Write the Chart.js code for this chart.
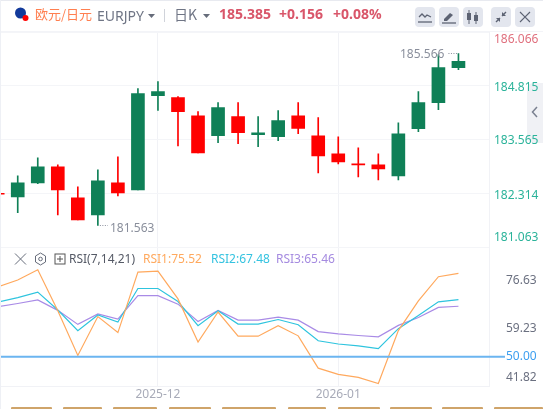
<!DOCTYPE html>
<html lang="zh">
<head>
<meta charset="utf-8">
<script src="https://cdn.jsdelivr.net/npm/chart.js@4/dist/chart.umd.js"></script>
<style>
html,body{margin:0;padding:0;background:#fff;width:543px;height:409px;overflow:hidden;font-family:"Noto Sans CJK SC","Noto Sans",sans-serif}
#wrap{position:relative;width:543px;height:409px;overflow:hidden}
canvas{position:absolute;left:0;top:0}
.t{position:absolute;white-space:nowrap;line-height:16px}
.b{position:absolute;top:7px;width:20px;height:20px;background:#e3e6ee;border-radius:4px}
.b svg{display:block;margin:2px}
.tab{position:absolute;top:407px;height:2px;background:#cfa46a;border-radius:1px 1px 0 0}
</style>
</head>
<body>
<div id="wrap">
<div style="position:absolute;left:527px;top:83px;width:16px;height:60px;background:#f0f1f5;border-radius:6px 0 0 6px"></div>
<canvas id="c" width="543" height="409"></canvas>
<svg style="position:absolute;left:531px;top:106px" width="8" height="12"><path d="M6 1L1.5 6 6 11" fill="none" stroke="#7a8090" stroke-width="1.5"/></svg>
<div style="position:absolute;left:0;top:0;width:543px;height:1px;background:#e8eaf0"></div>
<div style="position:absolute;left:0;top:31px;width:543px;height:1px;background:#f3f4f8"></div>
<div style="position:absolute;left:0;top:0;width:1px;height:409px;background:#eef0f5"></div>
<svg style="position:absolute;left:13px;top:6px" width="18" height="17"><circle cx="7.5" cy="7" r="5.5" fill="#123a9b"/><circle cx="12.5" cy="12" r="3" fill="#f00"/></svg>
<div class="t" style="left:35px;top:6px;font-size:13px;color:#ff7f50">欧元/日元</div>
<div class="t" style="left:97px;top:8px;font-size:14px;color:#6f7585;font-family:'Noto Sans'">EURJPY</div>
<svg style="position:absolute;left:148px;top:14px" width="8" height="5"><path d="M0 0h7L3.5 4z" fill="#666c7a"/></svg>
<div style="position:absolute;left:164px;top:9px;width:1px;height:13px;background:#d0d3da"></div>
<div class="t" style="left:174px;top:6px;font-size:14px;color:#6f7585">日K</div>
<svg style="position:absolute;left:203px;top:14px" width="8" height="5"><path d="M0 0h7L3.5 4z" fill="#666c7a"/></svg>
<div class="t" style="left:219px;top:6px;font-size:14px;font-weight:700;color:#d9566a;font-family:'Noto Sans'">185.385</div>
<div class="t" style="left:279px;top:6px;font-size:14px;font-weight:700;color:#d9566a;font-family:'Noto Sans'">+0.156</div>
<div class="t" style="left:333px;top:6px;font-size:14px;font-weight:700;color:#d9566a;font-family:'Noto Sans'">+0.08%</div>
<div class="b" style="left:415px"><svg width="16" height="16"><path d="M2 8l3-3 3 3 2-2 4 2" fill="none" stroke="#5d6373" stroke-width="1.3"/><path d="M1 13h14" stroke="#5d6373" stroke-width="1.3"/></svg></div>
<div class="b" style="left:439px"><svg width="16" height="16"><path d="M3 10l6-6 3 2-6 6H3z" fill="#5d6373"/><path d="M1 14h14" stroke="#5d6373" stroke-width="1.3"/></svg></div>
<div class="b" style="left:463px"><svg width="16" height="16"><path d="M4 1v14M11 3v12" stroke="#5d6373"/><rect x="2" y="4" width="4" height="7" fill="#5d6373"/><rect x="9" y="6" width="4" height="6" fill="#5d6373"/></svg></div>
<div class="b" style="left:491px"><svg width="16" height="16"><path d="M13 3L9 7M3 13l4-4" stroke="#5d6373" stroke-width="1.4"/><path d="M9 3v4h4M3 9h4v4" fill="#5d6373"/></svg></div>
<div class="b" style="left:515px"><svg width="16" height="16"><path d="M3 3l10 10M13 3L3 13" stroke="#5d6373" stroke-width="1.2"/></svg></div>
<svg style="position:absolute;left:14px;top:253px" width="14" height="13"><path d="M1 0.5l11 11M12 0.5L1 11.5" stroke="#666c7a" stroke-width="1"/></svg>
<svg style="position:absolute;left:34px;top:252px" width="13" height="14"><path d="M6.5 1l5 3v6l-5 3-5-3V4z" fill="none" stroke="#666c7a"/><circle cx="6.5" cy="7" r="1.8" fill="none" stroke="#666c7a"/></svg>
<svg style="position:absolute;left:54px;top:253px" width="12" height="12"><rect x="1" y="1" width="10" height="10" fill="none" stroke="#555"/><path d="M6 3v6M3 6h6" stroke="#555"/></svg>
<div class="t" style="left:69px;top:251px;font-size:12px;color:#555a66;font-family:'Noto Sans'">RSI(7,14,21)</div>
<div class="t" style="left:143px;top:251px;font-size:12px;color:#ffa95e;font-family:'Noto Sans'">RSI1:75.52</div>
<div class="t" style="left:211px;top:251px;font-size:12px;color:#35c3e0;font-family:'Noto Sans'">RSI2:67.48</div>
<div class="t" style="left:276px;top:251px;font-size:12px;color:#a58be0;font-family:'Noto Sans'">RSI3:65.46</div>
<div class="tab" style="left:11px;width:41px"></div>
<div class="tab" style="left:63px;width:39px"></div>
<div class="tab" style="left:113px;width:44px"></div>
<div class="tab" style="left:169px;width:42px"></div>
<div class="tab" style="left:222px;width:54px"></div>
<div class="tab" style="left:288px;width:38px"></div>
<div class="tab" style="left:338px;width:42px"></div>
<div class="tab" style="left:390px;width:42px"></div>
<div class="tab" style="left:442px;width:41px"></div>
<div class="tab" style="left:494px;width:49px"></div>
</div>
<script>
const opens  = [182.31,182.229,182.555,182.929,182.206,181.809,182.555,182.392,184.585,184.538,184.118,183.652,184.095,183.675,183.628,184.118,183.652,183.232,182.999,182.975,182.719,183.815,184.421,185.238];
const closes = [182.29,182.555,182.929,182.392,181.692,182.602,182.322,184.631,184.678,184.212,183.255,184.305,183.722,183.722,184.002,183.822,183.185,183.045,182.975,182.882,183.698,184.421,185.238,185.385];
const highs  = [182.31,182.719,183.139,182.975,182.462,182.859,183.162,184.748,184.911,184.561,184.212,184.421,184.421,184.095,184.235,184.421,184.072,183.628,183.372,183.232,183.955,184.678,185.541,185.566];
const lows   = [182.29,181.863,182.539,181.809,181.692,181.563,182.252,182.392,184.242,183.418,183.255,183.488,183.465,183.395,183.535,183.698,182.789,182.999,182.695,182.625,182.625,183.745,184.258,185.191];
const rsi1   = [71.4,73.5,76.63,64.1,50.4,62.3,57.4,75.9,76.2,67.7,54.5,63.7,56.3,56.3,59.5,56.4,46.5,44.6,43.7,41.82,58.0,67.1,74.5,75.52];
const rsi2   = [66.7,68.1,69.8,64.3,58.0,62.8,60.6,70.9,70.9,66.9,59.5,64.1,60.0,60.0,61.4,59.8,54.9,53.9,53.3,52.5,58.6,62.6,66.8,67.48];
const rsi3   = [65.3,66.3,67.4,64.2,59.9,63.1,61.5,68.7,68.7,66.1,60.8,64.2,61.2,61.2,62.1,61.2,57.7,57.0,56.5,56.1,59.6,62.0,65.1,65.46];
const priceTicks = [186.066,184.815,183.565,182.314,181.063];
const rsiTicks = [76.63,59.23,50.00,41.82];
const monthTicks = {8:'2025-12',17:'2026-01'};
const UP='#0f8057', DOWN='#ff0000';
const colors = opens.map((o,i)=>closes[i]>=o?UP:DOWN);
const bodies = opens.map((o,i)=>({x:i,y:[o,closes[i]]}));
const wicks  = opens.map((o,i)=>({x:i,y:[lows[i],highs[i]]}));
const line = (arr)=>arr.map((v,i)=>({x:i,y:v}));

const labelsPlugin = {
  id:'labels',
  afterDatasetsDraw(chart){
    const {ctx,scales:{x,y,yRsi}} = chart;
    ctx.save();
    ctx.strokeStyle='#6bb5f0'; ctx.lineWidth=2;
    const y50=yRsi.getPixelForValue(50);
    ctx.beginPath(); ctx.moveTo(0,y50); ctx.lineTo(505,y50); ctx.stroke();
    ctx.font='12px "Noto Sans"'; ctx.textBaseline='middle';
    ctx.textAlign='left';
    const po=[7.5,2,1.5,2,-9];
    priceTicks.forEach((v,i)=>{
      ctx.fillStyle=i===0?'#e0707e':'#2bb39a';
      ctx.fillText(v.toFixed(3),494,y.getPixelForValue(v)+po[i]);
    });
    const ro=[11,2,0,-6];
    rsiTicks.forEach((v,i)=>{
      ctx.fillStyle=v===50?'#3d9ff0':'#6b7080';
      ctx.fillText(v.toFixed(2),506,yRsi.getPixelForValue(v)+ro[i]);
    });
    ctx.fillStyle='#8a8f9c'; ctx.strokeStyle='#8a8f9c'; ctx.lineWidth=1; ctx.setLineDash([1,1.5]);
    const hx=x.getPixelForValue(23), hy=y.getPixelForValue(185.566);
    ctx.beginPath(); ctx.moveTo(hx-10,hy); ctx.lineTo(hx,hy); ctx.stroke();
    ctx.fillText('185.566',400,hy+1.5);
    const lx=x.getPixelForValue(5), ly=y.getPixelForValue(181.563);
    ctx.beginPath(); ctx.moveTo(lx+2,ly); ctx.lineTo(lx+10,ly); ctx.stroke();
    ctx.fillText('181.563',110,ly+3);
    ctx.restore();
  }
};
new Chart(document.getElementById('c'),{
  type:'bar',
  data:{datasets:[
    {type:'bar',data:wicks,backgroundColor:colors,barThickness:1,grouped:false,order:2,xAxisID:'x',yAxisID:'y'},
    {type:'bar',data:bodies,backgroundColor:colors,barThickness:13,minBarLength:1,grouped:false,order:1,xAxisID:'x',yAxisID:'y'},
    {type:'line',label:'RSI1',data:line(rsi1),borderColor:'#ffa95e',borderWidth:1.2,pointRadius:0,tension:0,xAxisID:'x',yAxisID:'yRsi',order:0},
    {type:'line',label:'RSI2',data:line(rsi2),borderColor:'#2ec4de',borderWidth:1.2,pointRadius:0,tension:0,xAxisID:'x',yAxisID:'yRsi',order:0},
    {type:'line',label:'RSI3',data:line(rsi3),borderColor:'#a98be6',borderWidth:1.2,pointRadius:0,tension:0,xAxisID:'x',yAxisID:'yRsi',order:0}
  ]},
  plugins:[labelsPlugin],
  options:{
    responsive:false,animation:false,
    layout:{padding:{top:32,left:0,right:0,bottom:0},autoPadding:false},
    plugins:{legend:{display:false},tooltip:{enabled:false}},
    scales:{
      x:{type:'linear',position:'bottom',offset:false,min:0.115,max:24.54,
        afterBuildTicks(s){s.ticks=Object.keys(monthTicks).map(k=>({value:+k}));},
        ticks:{autoSkip:false,maxRotation:0,padding:1,color:'#a8abb8',font:{size:12,family:'Noto Sans'},callback:v=>monthTicks[v]||''},
        grid:{offset:false,color:'#f1f2f6',drawTicks:false},border:{color:'#f1f2f6'},
        afterFit(s){s.height=23;}},
      y:{position:'right',stack:'panes',stackWeight:215,min:181.063,max:186.066,
        afterBuildTicks(s){s.ticks=priceTicks.map(v=>({value:v}));},
        ticks:{display:false},grid:{color:'#f4f5f8',drawTicks:false},border:{color:'#f1f2f6'},
        afterFit(s){s.width=53.7;}},
      yRsi:{position:'right',stack:'panes',stackWeight:139,min:41.04,max:83.6,
        afterBuildTicks(s){s.ticks=[];},
        ticks:{display:false},grid:{display:false},border:{color:'#f1f2f6'},
        afterFit(s){s.width=53.7;}}
    }
  }
});
</script>
</body>
</html>
